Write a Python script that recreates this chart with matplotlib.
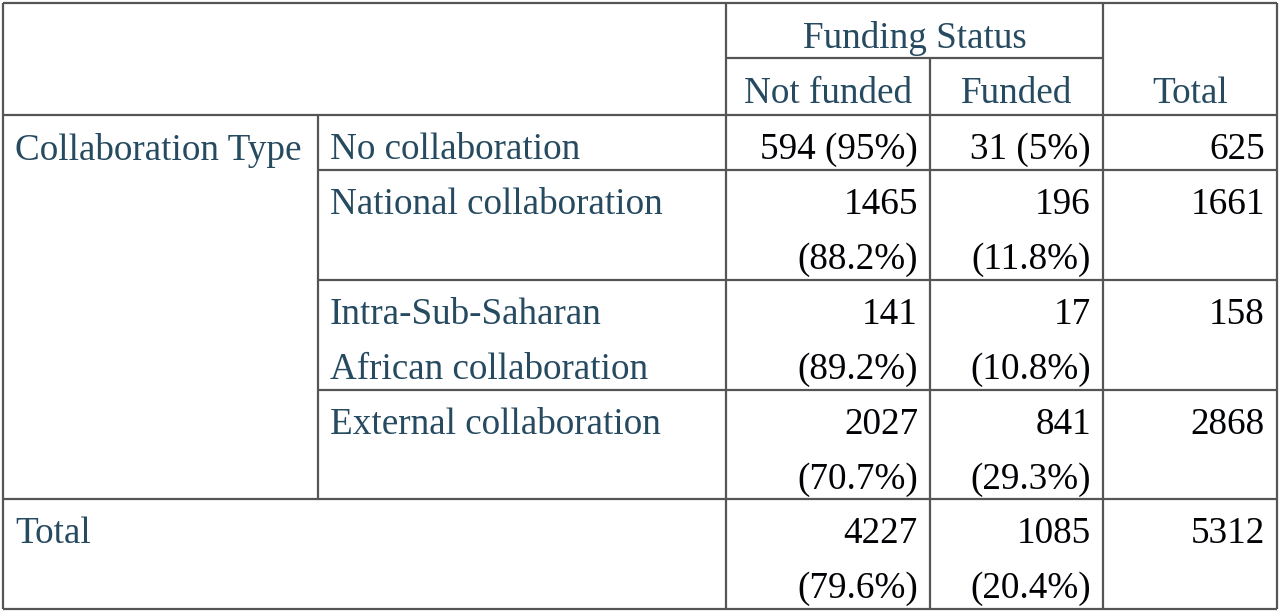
import matplotlib
matplotlib.use("Agg")
import matplotlib.pyplot as plt

# table content
row_header = "Collaboration Type"
row_labels = [
    ["No collaboration"],
    ["National collaboration"],
    ["Intra-Sub-Saharan", "African collaboration"],
    ["External collaboration"],
]
col_group = "Funding Status"
col_labels = ["Not funded", "Funded"]
total_label = "Total"

not_funded = [594, 1465, 141, 2027]
not_funded_pct = ["95%", "88.2%", "89.2%", "70.7%"]
funded = [31, 196, 17, 841]
funded_pct = ["5%", "11.8%", "10.8%", "29.3%"]
row_totals = [625, 1661, 158, 2868]

total_not_funded, total_not_funded_pct = 4227, "79.6%"
total_funded, total_funded_pct = 1085, "20.4%"
grand_total = 5312

LABEL_C = "#264a60"
NUM_C = "#010205"
LINE_C = "#555555"
FONT = "Liberation Serif"
FS = 26.7

fig = plt.figure(figsize=(12.8, 6.13), dpi=100)
ax = fig.add_axes([0, 0, 1, 1])
ax.set_xlim(0, 1280)
ax.set_ylim(613, 0)
ax.axis("off")

# grid geometry (pixels)
x_left, x_sub, x_nf, x_f, x_tot, x_right = 3, 318, 726, 930, 1103, 1277
y_top, y_grp, y_hdr = 3, 58, 115
row_edges = [115, 170, 280, 390, 499]
y_bot = 609


def hline(y, x0, x1):
    ax.plot([x0, x1], [y, y], color=LINE_C, lw=1.6, solid_capstyle="butt")


def vline(x, y0, y1):
    ax.plot([x, x], [y0, y1], color=LINE_C, lw=1.6, solid_capstyle="butt")


# outer box
hline(y_top, x_left, x_right)
hline(y_bot, x_left, x_right)
vline(x_left, y_top, y_bot)
vline(x_right, y_top, y_bot)
# header lines
vline(x_nf, y_top, y_bot)
vline(x_tot, y_top, y_bot)
vline(x_f, y_grp, y_bot)
hline(y_grp, x_nf, x_tot)
hline(y_hdr, x_left, x_right)
# body lines
vline(x_sub, row_edges[0], row_edges[-1])
for y in row_edges[1:-1]:
    hline(y, x_sub, x_right)
hline(row_edges[-1], x_left, x_right)


def txt(x, y, s, color, ha="left"):
    ax.text(x, y, s, color=color, ha=ha, va="center", fontsize=FS, family=FONT)


# headers
txt((x_nf + x_tot) / 2, 39, col_group, LABEL_C, "center")
txt((x_nf + x_f) / 2, 94, col_labels[0], LABEL_C, "center")
txt((x_f + x_tot) / 2, 94, col_labels[1], LABEL_C, "center")
txt((x_tot + x_right) / 2, 94, total_label, LABEL_C, "center")

txt(15, 150, row_header, LABEL_C)

LINE_H = 55
for i, lab in enumerate(row_labels):
    y0 = row_edges[i] + 35
    for j, part in enumerate(lab):
        txt(330, y0 + j * LINE_H, part, LABEL_C)
    if i == 0:
        txt(918, y0, f"{not_funded[i]} ({not_funded_pct[i]})", NUM_C, "right")
        txt(1091, y0, f"{funded[i]} ({funded_pct[i]})", NUM_C, "right")
    else:
        txt(918, y0, f"{not_funded[i]}", NUM_C, "right")
        txt(918, y0 + LINE_H, f"({not_funded_pct[i]})", NUM_C, "right")
        txt(1091, y0, f"{funded[i]}", NUM_C, "right")
        txt(1091, y0 + LINE_H, f"({funded_pct[i]})", NUM_C, "right")
    txt(1265, y0, f"{row_totals[i]}", NUM_C, "right")

# total row
yt = row_edges[-1] + 35
txt(15, yt, total_label, LABEL_C)
txt(918, yt, f"{total_not_funded}", NUM_C, "right")
txt(918, yt + LINE_H, f"({total_not_funded_pct})", NUM_C, "right")
txt(1091, yt, f"{total_funded}", NUM_C, "right")
txt(1091, yt + LINE_H, f"({total_funded_pct})", NUM_C, "right")
txt(1265, yt, f"{grand_total}", NUM_C, "right")

fig.savefig("out.png", dpi=100, facecolor="white")
